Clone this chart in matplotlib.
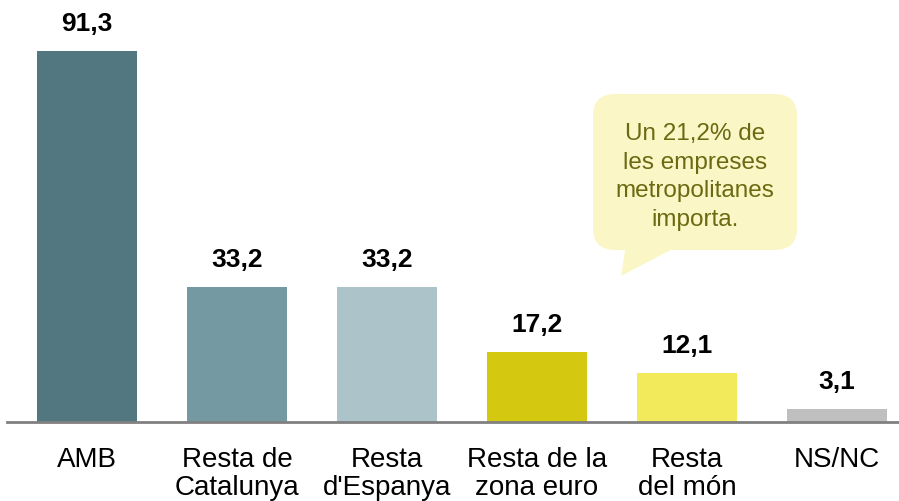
import matplotlib
matplotlib.use("Agg")
import matplotlib.pyplot as plt
from matplotlib.patches import FancyBboxPatch, Polygon

plt.rcParams['font.family'] = ['Liberation Sans', 'DejaVu Sans']

categories = ["AMB", "Resta de\nCatalunya", "Resta\nd'Espanya", "Resta de la\nzona euro",
              "Resta\ndel món", "NS/NC"]
values = [91.3, 33.2, 33.2, 17.2, 12.1, 3.1]
labels = ["91,3", "33,2", "33,2", "17,2", "12,1", "3,1"]
colors = ["#537780", "#7599a3", "#abc3c9", "#d4c910", "#f2ea5a", "#bfbfbf"]
note = "Un 21,2% de\nles empreses\nmetropolitanes\nimporta."

W, H = 899, 502
fig = plt.figure(figsize=(W / 100, H / 100), dpi=100)
ax = fig.add_axes([7 / W, 79 / H, 1 - 7 / W, 1 - 79 / H])

x = range(len(values))
ax.bar(x, values, width=0.667, color=colors)
for i, (v, lab) in enumerate(zip(values, labels)):
    ax.text(i, v + 6.9, lab, ha="center", va="center", fontsize=19, fontweight="bold")

ax.set_xlim(-0.533, 5.413)
ax.set_ylim(0, 104.1)
ax.set_yticks([])
ax.set_xticks(list(x))
ax.set_xticklabels(categories, fontsize=20, linespacing=1.12)
ax.tick_params(axis="x", length=0, pad=17)
for s in ["top", "right", "left"]:
    ax.spines[s].set_visible(False)
ax.spines["bottom"].set_color("#808080")
ax.spines["bottom"].set_linewidth(2)

# callout bubble, drawn in pixel space
ov = fig.add_axes([0, 0, 1, 1])
ov.set_xlim(0, W)
ov.set_ylim(H, 0)
ov.axis("off")
ov.patch.set_alpha(0)
fill = "#fbf6c6"
ov.add_patch(Polygon([(626, 245), (682, 245), (621, 277)], closed=True,
                     facecolor=fill, edgecolor="none"))
ov.add_patch(FancyBboxPatch((593 + 22, 95 + 22), 204 - 44, 156 - 44,
                            boxstyle="round,pad=22", facecolor=fill, edgecolor="none"))
ov.text(695, 177, note, ha="center", va="center", fontsize=17.5, color="#6b6a12",
        linespacing=1.38)

fig.savefig("out.png", dpi=100)
